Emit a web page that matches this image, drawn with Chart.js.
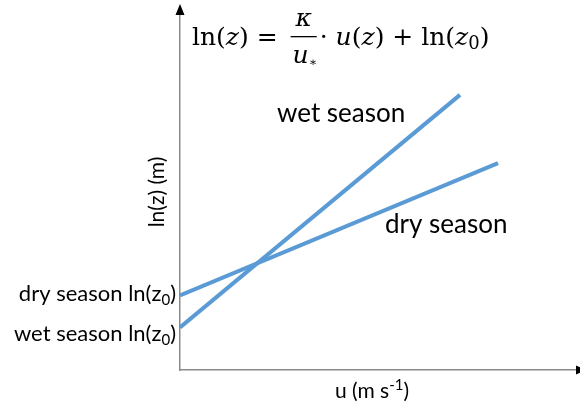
<!DOCTYPE html>
<html>
<head>
<meta charset="utf-8">
<script src="https://cdn.jsdelivr.net/npm/chart.js@4"></script>
<style>
  html, body { margin: 0; padding: 0; background: #fff; }
</style>
</head>
<body>
<canvas id="profileChart" width="580" height="405"></canvas>
<script>
// wind speed u vs ln(z), one straight profile per season
const wetU = [0, 70];
const wetLnZ = [12, 77.5];
const dryU = [0, 79.5];
const dryLnZ = [21, 58.3];
const seasonNames = ['wet season', 'dry season'];
const axisTitles = ['u (m s', 'ln(z) (m)'];

const lineBlue = '#5b9bd5';
const axisGrey = '#8a8a8a';
const labelFont = 'Lato, "Open Sans", sans-serif';
const mathFont = '"DejaVu Serif", "Liberation Serif", serif';

function toPoints(xs, ys) {
    return xs.map((x, i) => ({ x: x, y: ys[i] }));
}

// text followed by a small lowered (or raised) piece, e.g. ln(z0)
function drawWithIndex(ctx, before, index, after, x, y, size, shift, align) {
    ctx.font = size + 'px ' + labelFont;
    const w1 = ctx.measureText(before).width;
    const w3 = ctx.measureText(after).width;
    ctx.font = Math.round(size * 0.7) + 'px ' + labelFont;
    const w2 = ctx.measureText(index).width;
    const total = w1 + w2 + w3;
    let start = x;
    if (align === 'right') start = x - total;
    if (align === 'center') start = x - total / 2;
    ctx.textAlign = 'left';
    ctx.font = size + 'px ' + labelFont;
    ctx.fillText(before, start, y);
    ctx.font = Math.round(size * 0.7) + 'px ' + labelFont;
    ctx.fillText(index, start + w1, y + shift);
    ctx.font = size + 'px ' + labelFont;
    ctx.fillText(after, start + w1 + w2, y);
}

// ln(z) = kappa/u* . u(z) + ln(z0), laid out piece by piece
function drawFormula(ctx, x, y) {
    const s = 25;
    const up = s + 'px ' + mathFont;
    const it = 'italic ' + s + 'px ' + mathFont;
    let cx = x;
    const put = (txt, font, dy) => {
        ctx.font = font;
        ctx.fillText(txt, cx, y + (dy || 0));
        cx += ctx.measureText(txt).width;
    };
    ctx.textAlign = 'left';
    put('ln(', up);
    put('z', it);
    put(') = ', up);
    cx += 5;
    // fraction
    ctx.font = it;
    const kw = ctx.measureText('\u03ba').width;
    const uw = ctx.measureText('u').width;
    const fw = uw + 10;
    ctx.fillText('\u03ba', cx + (fw - kw) / 2, y - 19);
    ctx.fillText('u', cx + 2, y + 18);
    ctx.font = '12px ' + mathFont;
    ctx.fillText('\u2217', cx + 2 + uw, y + 21);
    ctx.fillRect(cx, y - 9, fw, 1.3);
    cx += fw + 3;
    put('\u00b7 ', up);
    put('u', it);
    put('(', up);
    put('z', it);
    put(') + ln(', up);
    put('z', it);
    put('0', Math.round(s * 0.7) + 'px ' + mathFont, 4);
    put(')', up);
}

const annotations = {
    id: 'annotations',
    afterDraw(chart) {
        const ctx = chart.ctx;
        const area = chart.chartArea;
        const ys = chart.scales.y;
        ctx.save();

        // arrow heads on both axes
        ctx.fillStyle = '#000';
        ctx.beginPath();
        ctx.moveTo(area.left, area.top - 11);
        ctx.lineTo(area.left - 4.5, area.top);
        ctx.lineTo(area.left + 4.5, area.top);
        ctx.closePath();
        ctx.fill();
        ctx.beginPath();
        ctx.moveTo(area.right - 4 + 11, area.bottom);
        ctx.lineTo(area.right - 4, area.bottom - 4.5);
        ctx.lineTo(area.right - 4, area.bottom + 4.5);
        ctx.closePath();
        ctx.fill();

        ctx.fillStyle = '#000';
        ctx.textBaseline = 'alphabetic';
        drawFormula(ctx, 192, 45);

        // series names next to the lines
        ctx.font = '26px ' + labelFont;
        ctx.textAlign = 'left';
        ctx.fillText(seasonNames[0], 277, 122);
        ctx.fillText(seasonNames[1], 385, 233);

        // intercepts on the y axis
        drawWithIndex(ctx, 'dry season ln(z', '0', ')', area.left - 4,
            ys.getPixelForValue(dryLnZ[0]) + 6, 22, 4, 'right');
        drawWithIndex(ctx, 'wet season ln(z', '0', ')', area.left - 4,
            ys.getPixelForValue(wetLnZ[0]) + 14, 22, 4, 'right');

        // axis titles
        drawWithIndex(ctx, axisTitles[0], '-1', ')', 372, 398, 21, -8, 'center');
        ctx.translate(164, 192);
        ctx.rotate(-Math.PI / 2);
        ctx.font = '21px ' + labelFont;
        ctx.textAlign = 'center';
        ctx.fillText(axisTitles[1], 0, 0);
        ctx.restore();
    }
};

const ctx = document.getElementById('profileChart').getContext('2d');

const data = {
    datasets: [{
        label: seasonNames[0],
        data: toPoints(wetU, wetLnZ),
        showLine: true,
        borderColor: lineBlue,
        borderWidth: 4,
        pointRadius: 0,
        fill: false
    }, {
        label: seasonNames[1],
        data: toPoints(dryU, dryLnZ),
        showLine: true,
        borderColor: lineBlue,
        borderWidth: 4,
        pointRadius: 0,
        fill: false
    }]
};

const config = {
    type: 'scatter',
    data: data,
    options: {
        responsive: false,
        animation: false,
        layout: {
            padding: { left: 180, right: 0, top: 15, bottom: 35 }
        },
        scales: {
            x: {
                min: 0,
                max: 100,
                grid: { display: false },
                ticks: { display: false },
                border: { display: true, color: axisGrey, width: 1.5 },
                afterFit: s => { s.height = 0; }
            },
            y: {
                min: 0,
                max: 100,
                grid: { display: false },
                ticks: { display: false },
                border: { display: true, color: axisGrey, width: 1.5 },
                afterFit: s => { s.width = 0; }
            }
        },
        plugins: {
            legend: { display: false },
            tooltip: { enabled: false }
        }
    },
    plugins: [annotations]
};

const profileChart = new Chart(ctx, config);
</script>
</body>
</html>
